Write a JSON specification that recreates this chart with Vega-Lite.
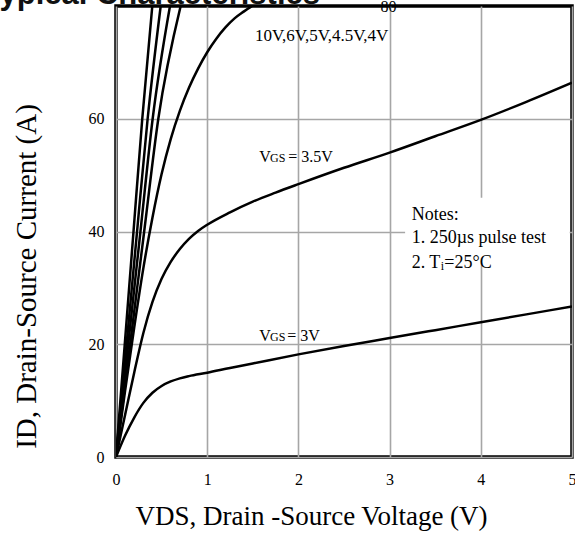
{
  "$schema": "https://vega.github.io/schema/vega-lite/v6.json",
  "width": 456,
  "height": 451,
  "autosize": {"type": "none"},
  "padding": {"left": 116, "top": 6, "right": 3, "bottom": 76},
  "background": "white",
  "config": {"view": {"stroke": "black", "strokeWidth": 3.5}, "font": "Liberation Serif"},
  "datasets": {
    "curves": [
      {"vgs": "10V", "vds": 0, "id": 0}, {"vgs": "10V", "vds": 0.096, "id": 20}, {"vgs": "10V", "vds": 0.192, "id": 40}, {"vgs": "10V", "vds": 0.288, "id": 60}, {"vgs": "10V", "vds": 0.398, "id": 80},
      {"vgs": "6V", "vds": 0, "id": 0}, {"vgs": "6V", "vds": 0.116, "id": 20}, {"vgs": "6V", "vds": 0.231, "id": 40}, {"vgs": "6V", "vds": 0.347, "id": 60}, {"vgs": "6V", "vds": 0.49, "id": 80},
      {"vgs": "5V", "vds": 0, "id": 0}, {"vgs": "5V", "vds": 0.134, "id": 20}, {"vgs": "5V", "vds": 0.268, "id": 40}, {"vgs": "5V", "vds": 0.402, "id": 60}, {"vgs": "5V", "vds": 0.592, "id": 80},
      {"vgs": "4.5V", "vds": 0, "id": 0}, {"vgs": "4.5V", "vds": 0.155, "id": 20}, {"vgs": "4.5V", "vds": 0.309, "id": 40}, {"vgs": "4.5V", "vds": 0.464, "id": 60}, {"vgs": "4.5V", "vds": 0.709, "id": 80},
      {"vgs": "4V", "vds": 0, "id": 0}, {"vgs": "4V", "vds": 0.1, "id": 11.8}, {"vgs": "4V", "vds": 0.2, "id": 23}, {"vgs": "4V", "vds": 0.3, "id": 33.5}, {"vgs": "4V", "vds": 0.4, "id": 42.5}, {"vgs": "4V", "vds": 0.5, "id": 50.2}, {"vgs": "4V", "vds": 0.6, "id": 56.4}, {"vgs": "4V", "vds": 0.7, "id": 61.4}, {"vgs": "4V", "vds": 0.8, "id": 65.5}, {"vgs": "4V", "vds": 0.9, "id": 68.9}, {"vgs": "4V", "vds": 1.0, "id": 71.8}, {"vgs": "4V", "vds": 1.1, "id": 74.2}, {"vgs": "4V", "vds": 1.2, "id": 76.2}, {"vgs": "4V", "vds": 1.3, "id": 77.8}, {"vgs": "4V", "vds": 1.4, "id": 79.0}, {"vgs": "4V", "vds": 1.5, "id": 80.1},
      {"vgs": "3.5V", "vds": 0, "id": 0}, {"vgs": "3.5V", "vds": 0.1, "id": 7.5}, {"vgs": "3.5V", "vds": 0.2, "id": 15}, {"vgs": "3.5V", "vds": 0.3, "id": 22}, {"vgs": "3.5V", "vds": 0.4, "id": 27.5}, {"vgs": "3.5V", "vds": 0.5, "id": 31.6}, {"vgs": "3.5V", "vds": 0.6, "id": 34.6}, {"vgs": "3.5V", "vds": 0.7, "id": 36.9}, {"vgs": "3.5V", "vds": 0.8, "id": 38.7}, {"vgs": "3.5V", "vds": 0.9, "id": 40.1}, {"vgs": "3.5V", "vds": 1, "id": 41.2}, {"vgs": "3.5V", "vds": 1.25, "id": 43.4}, {"vgs": "3.5V", "vds": 1.5, "id": 45.3}, {"vgs": "3.5V", "vds": 1.75, "id": 46.9}, {"vgs": "3.5V", "vds": 2, "id": 48.4}, {"vgs": "3.5V", "vds": 2.5, "id": 51.3}, {"vgs": "3.5V", "vds": 3, "id": 54.0}, {"vgs": "3.5V", "vds": 3.5, "id": 56.9}, {"vgs": "3.5V", "vds": 4, "id": 59.8}, {"vgs": "3.5V", "vds": 4.5, "id": 63.0}, {"vgs": "3.5V", "vds": 5, "id": 66.4},
      {"vgs": "3V", "vds": 0, "id": 0}, {"vgs": "3V", "vds": 0.1, "id": 3.8}, {"vgs": "3V", "vds": 0.2, "id": 7.0}, {"vgs": "3V", "vds": 0.3, "id": 9.6}, {"vgs": "3V", "vds": 0.4, "id": 11.4}, {"vgs": "3V", "vds": 0.5, "id": 12.6}, {"vgs": "3V", "vds": 0.6, "id": 13.4}, {"vgs": "3V", "vds": 0.7, "id": 13.95}, {"vgs": "3V", "vds": 0.8, "id": 14.35}, {"vgs": "3V", "vds": 1, "id": 14.95}, {"vgs": "3V", "vds": 1.25, "id": 15.8}, {"vgs": "3V", "vds": 1.5, "id": 16.6}, {"vgs": "3V", "vds": 2, "id": 18.2}, {"vgs": "3V", "vds": 2.5, "id": 19.7}, {"vgs": "3V", "vds": 3, "id": 21.1}, {"vgs": "3V", "vds": 3.5, "id": 22.5}, {"vgs": "3V", "vds": 4, "id": 23.9}, {"vgs": "3V", "vds": 4.5, "id": 25.3}, {"vgs": "3V", "vds": 5, "id": 26.7}
    ],
    "labels17": [
      {"vds": 1.524, "id": 73.8, "label": "10V,6V,5V,4.5V,4V"}
    ],
    "labels16": [
      {"vds": 1.571, "id": 52.3, "label": "V"},
      {"vds": 1.889, "id": 52.3, "label": "= 3.5V"},
      {"vds": 1.571, "id": 20.5, "label": "V"},
      {"vds": 1.878, "id": 20.5, "label": "= 3V"},
      {"vds": 2.9, "id": 78.95, "label": "80"}
    ],
    "labels12": [
      {"vds": 1.689, "id": 52.3, "label": "GS"},
      {"vds": 1.689, "id": 20.5, "label": "GS"},
      {"vds": 3.561, "id": 33.1, "label": "i"}
    ],
    "notes": [
      {"vds": 3.242, "id": 42.1, "label": "Notes:"},
      {"vds": 3.242, "id": 37.9, "label": "1. 250µs pulse test"},
      {"vds": 3.242, "id": 33.6, "label": "2. T"},
      {"vds": 3.6, "id": 33.6, "label": "=25°C"}
    ],
    "heading": [
      {"vds": -1.46, "id": 80.3, "label": "Typical Characteristics"}
    ],
    "notebox": [
      {"x1": 3.17, "x2": 4.975, "y1": 34.0, "y2": 46.0}
    ]
  },
  "layer": [
    {
      "data": {"name": "curves"},
      "mark": {"type": "line", "interpolate": "monotone", "stroke": "black", "strokeWidth": 2.5, "clip": true},
      "encoding": {
        "x": {
          "field": "vds", "type": "quantitative",
          "scale": {"domain": [0, 5], "nice": false, "zero": false},
          "axis": {
            "values": [0, 1, 2, 3, 4, 5], "format": "d", "grid": true, "gridColor": "#a6a6a6", "gridWidth": 1.6,
            "domain": false, "ticks": false, "labelFlush": false,
            "labelFont": "Liberation Serif", "labelFontSize": 16, "labelColor": "black", "labelPadding": 14,
            "title": "VDS, Drain -Source Voltage (V)", "titleFont": "Liberation Serif", "titleFontSize": 27,
            "titleFontWeight": "normal", "titleColor": "black", "titleX": 195, "titleY": 67,
            "titleBaseline": "alphabetic", "titleAlign": "center", "titleAnchor": null
          }
        },
        "y": {
          "field": "id", "type": "quantitative",
          "scale": {"domain": [0, 80], "nice": false, "zero": false},
          "axis": {
            "values": [0, 20, 40, 60], "format": "d", "grid": true, "gridColor": "#a6a6a6", "gridWidth": 1.6,
            "domain": false, "ticks": false, "labelFlush": false,
            "labelFont": "Liberation Serif", "labelFontSize": 16, "labelColor": "black", "labelPadding": 12,
            "title": "ID, Drain-Source Current (A)", "titleFont": "Liberation Serif", "titleFontSize": 29,
            "titleFontWeight": "normal", "titleColor": "black", "titleX": -81, "titleY": 270,
            "titleBaseline": "alphabetic", "titleAlign": "center", "titleAngle": -90, "titleAnchor": null
          }
        },
        "detail": {"field": "vgs", "type": "nominal"}
      }
    },
    {
      "data": {"name": "notebox"},
      "mark": {"type": "rect", "fill": "white"},
      "encoding": {
        "x": {"field": "x1", "type": "quantitative"},
        "x2": {"field": "x2"},
        "y": {"field": "y1", "type": "quantitative"},
        "y2": {"field": "y2"}
      }
    },
    {
      "data": {"name": "labels17"},
      "mark": {"type": "text", "align": "left", "baseline": "alphabetic", "font": "Liberation Serif", "fontSize": 17, "color": "black"},
      "encoding": {
        "x": {"field": "vds", "type": "quantitative"},
        "y": {"field": "id", "type": "quantitative"},
        "text": {"field": "label"}
      }
    },
    {
      "data": {"name": "labels16"},
      "mark": {"type": "text", "align": "left", "baseline": "alphabetic", "font": "Liberation Serif", "fontSize": 16, "color": "black"},
      "encoding": {
        "x": {"field": "vds", "type": "quantitative"},
        "y": {"field": "id", "type": "quantitative"},
        "text": {"field": "label"}
      }
    },
    {
      "data": {"name": "labels12"},
      "mark": {"type": "text", "align": "left", "baseline": "alphabetic", "font": "Liberation Serif", "fontSize": 12, "color": "black"},
      "encoding": {
        "x": {"field": "vds", "type": "quantitative"},
        "y": {"field": "id", "type": "quantitative"},
        "text": {"field": "label"}
      }
    },
    {
      "data": {"name": "notes"},
      "mark": {"type": "text", "align": "left", "baseline": "alphabetic", "font": "Liberation Serif", "fontSize": 18, "color": "black"},
      "encoding": {
        "x": {"field": "vds", "type": "quantitative"},
        "y": {"field": "id", "type": "quantitative"},
        "text": {"field": "label"}
      }
    },
    {
      "data": {"name": "heading"},
      "mark": {"type": "text", "align": "left", "baseline": "alphabetic", "font": "Liberation Sans", "fontWeight": "bold", "fontSize": 31, "color": "#111111"},
      "encoding": {
        "x": {"field": "vds", "type": "quantitative"},
        "y": {"field": "id", "type": "quantitative"},
        "text": {"field": "label"}
      }
    }
  ]
}
